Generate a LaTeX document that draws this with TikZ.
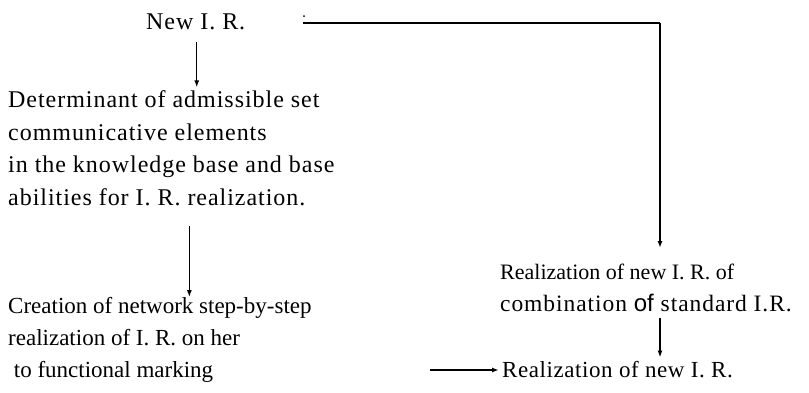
\documentclass[tikz,border=0pt]{standalone}
\usepackage{fontspec}
\setmainfont{Liberation Serif}
\newfontfamily\wide[LetterSpace=4]{Liberation Serif}
\newfontfamily\loose[LetterSpace=2.5]{Liberation Serif}
\newfontfamily\ofsans{Liberation Sans}
\usetikzlibrary{arrows.meta}
\begin{document}
\begin{tikzpicture}[x=1pt,y=-1pt,
    txt/.style={inner sep=0pt,align=left,font=\fontsize{23}{32}\selectfont},
    wide txt/.style={txt,font=\fontsize{24}{32.5}\selectfont\wide},
    arr/.style={-{Latex[length=7pt,width=5pt]},line width=1.4pt}]
    \useasboundingbox (0,0) rectangle (809,392);
    % texts
    \node[wide txt,anchor=west] (ir) at (146,22) {New I. R.};
    \node[wide txt,anchor=west] (det) at (8,148) {Determinant of admissible set\\
        communicative elements\\
        in the knowledge base and base\\
        abilities for I. R. realization.};
    \node[txt,anchor=west] (cre) at (8,340) {Creation of network step-by-step\\
        realization of I. R. on her\\
        \ to functional marking};
    \node[txt,anchor=west] (comb) at (500,288) {\fontsize{22}{31}\selectfont Realization of new I. R. of\\
        {\fontsize{23.5}{31}\wide combination {\ofsans\fontsize{24}{31}\selectfont of} standard I.R.}};
    \node[txt,anchor=west,font=\fontsize{23}{31}\selectfont\loose] (res) at (502,370) {Realization of new I. R.};
    % branch to the right
    \coordinate (start) at (303,23);
    \coordinate (corner) at (660,23);
    \fill (304,16) circle (1pt);
    \draw[line width=1.8pt] (start) -- (corner);
    \draw[arr,line width=1.8pt] (corner) -- (660,248);
    % arrows
    \draw[arr] ([xshift=1pt,yshift=-12pt]ir.south) -- ([xshift=1pt,yshift=3pt]ir.south |- det.north);
    \draw[arr] ([xshift=18pt,yshift=-20pt]det.south) -- ([xshift=18pt]det.south |- cre.north);
    \draw[arr] ([yshift=-6pt]corner |- comb.south) -- ([yshift=4pt]corner |- res.north);
    \coordinate (from) at (430,370);
    \draw[arr] (from) -- ([xshift=-3pt]res.west);
\end{tikzpicture}
\end{document}
